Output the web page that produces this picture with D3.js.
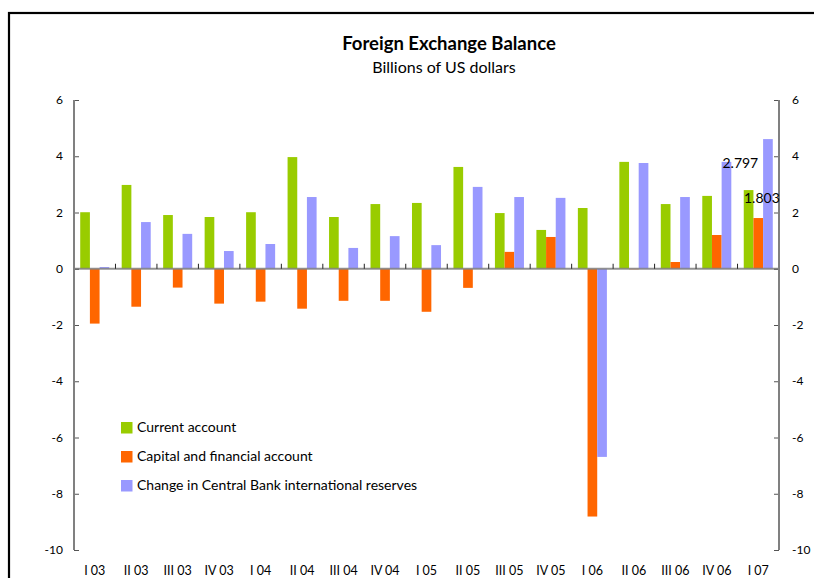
<!DOCTYPE html>
<html>
<head>
<meta charset="utf-8">
<script src="https://cdn.jsdelivr.net/npm/d3@7"></script>
<style>
  html, body { margin: 0; padding: 0; background: #fff; }
  svg { display: block; font-family: Lato, "Open Sans", sans-serif; }
</style>
</head>
<body>
<svg id="chart" width="814" height="578"></svg>
<script>
const categories = ["I 03","II 03","III 03","IV 03","I 04","II 04","III 04","IV 04","I 05","II 05","III 05","IV 05","I 06","II 06","III 06","IV 06","I 07"];
const currentAccount = [2.01, 2.98, 1.91, 1.84, 2.01, 3.97, 1.84, 2.30, 2.34, 3.62, 1.98, 1.38, 2.16, 3.80, 2.30, 2.59, 2.797];
const capitalAccount = [-1.95, -1.35, -0.67, -1.24, -1.17, -1.42, -1.14, -1.14, -1.53, -0.68, 0.60, 1.13, -8.81, -0.02, 0.24, 1.20, 1.803];
const reserves = [0.06, 1.66, 1.24, 0.63, 0.88, 2.55, 0.74, 1.16, 0.84, 2.91, 2.55, 2.52, -6.69, 3.76, 2.55, 3.80, 4.61];
const seriesNames = ["Current account", "Capital and financial account", "Change in Central Bank international reserves"];
const seriesColors = ["#99CC00", "#FF6600", "#9999FF"];
const yTicks = [-10, -8, -6, -4, -2, 0, 2, 4, 6];
const dataLabels = [{cat: "I 07", series: 0, text: "2.797"}, {cat: "I 07", series: 1, text: "1.803"}];

const svg = d3.select("#chart");
const series = [currentAccount, capitalAccount, reserves];

// frame
svg.append("rect").attr("x", 9).attr("y", 13).attr("width", 830).attr("height", 600)
  .attr("fill", "none").attr("stroke", "#000").attr("stroke-width", 2.2);

// titles
svg.append("text").attr("x", 449).attr("y", 50).attr("text-anchor", "middle")
  .attr("font-size", 18.5).attr("font-weight", "bold").attr("fill", "#000").text("Foreign Exchange Balance");
svg.append("text").attr("x", 444).attr("y", 73).attr("text-anchor", "middle")
  .attr("font-size", 16).attr("fill", "#000").text("Billions of US dollars");

const left = 74, right = 779;
const y = d3.scaleLinear().domain([-10, 6]).range([550, 100]);
const x = d3.scaleBand().domain(categories).range([left, right]).paddingInner(0.3).paddingOuter(0.15);
const xs = d3.scaleBand().domain([0, 1, 2]).range([0, x.bandwidth()]);
const step = x.step();

// bars
series.forEach((vals, si) => {
  svg.append("g").selectAll("rect").data(vals).join("rect")
    .attr("x", (d, i) => x(categories[i]) + xs(si))
    .attr("width", xs.bandwidth())
    .attr("y", d => y(Math.max(0, d)))
    .attr("height", d => Math.abs(y(d) - y(0)))
    .attr("fill", seriesColors[si]);
});

// zero line with category tick marks
svg.append("line").attr("x1", left).attr("x2", right).attr("y1", y(0)).attr("y2", y(0))
  .attr("stroke", "#7f7f7f").attr("stroke-width", 2).attr("stroke-opacity", 0.85);
const boundaries = d3.range(1, categories.length).map(i => x.range()[0] + i * step);
svg.append("g").selectAll("line").data(boundaries).join("line")
  .attr("x1", d => d).attr("x2", d => d).attr("y1", y(0)).attr("y2", y(0) - 5)
  .attr("stroke", "#222").attr("stroke-width", 1);

// left axis
const axisL = svg.append("g").attr("transform", `translate(${left},0)`)
  .call(d3.axisRight(y).tickValues(yTicks).tickSize(5).tickFormat(""));
axisL.select(".domain").remove();
axisL.selectAll(".tick line").attr("stroke", "#555");
svg.append("line").attr("x1", left).attr("x2", left).attr("y1", y(6)).attr("y2", y(-10))
  .attr("stroke", "#808080").attr("stroke-width", 2);
svg.append("g").selectAll("text").data(yTicks).join("text")
  .attr("x", 63).attr("y", d => y(d) + 4).attr("text-anchor", "end")
  .attr("font-size", 12).attr("fill", "#000").text(d => d);

// right axis
const axisR = svg.append("g").attr("transform", `translate(${right},0)`)
  .call(d3.axisLeft(y).tickValues(yTicks).tickSize(5).tickFormat(""));
axisR.select(".domain").remove();
axisR.selectAll(".tick line").attr("stroke", "#555");
svg.append("line").attr("x1", right).attr("x2", right).attr("y1", y(6)).attr("y2", y(-10))
  .attr("stroke", "#808080").attr("stroke-width", 2);
svg.append("g").selectAll("text").data(yTicks).join("text")
  .attr("x", 792).attr("y", d => y(d) + 4).attr("text-anchor", "start")
  .attr("font-size", 12).attr("fill", "#000").text(d => d);

// x labels
svg.append("g").selectAll("text").data(categories).join("text")
  .attr("x", d => x(d) + x.bandwidth() / 2).attr("y", 575).attr("text-anchor", "middle")
  .attr("font-size", 12.5).attr("fill", "#000").text(d => d);

// data labels
const labelOffsets = [{dx: x.bandwidth() / 2, dy: -22, anchor: "end"}, {dx: x.bandwidth() + 7, dy: -15, anchor: "end"}];
dataLabels.forEach((l, i) => {
  const v = series[l.series][categories.indexOf(l.cat)];
  svg.append("text").attr("x", x(l.cat) + labelOffsets[i].dx).attr("y", y(v) + labelOffsets[i].dy)
    .attr("text-anchor", labelOffsets[i].anchor).attr("font-size", 14).attr("fill", "#000").text(l.text);
});

// legend
const legend = svg.append("g").attr("transform", "translate(121,422)");
seriesNames.forEach((name, i) => {
  legend.append("rect").attr("x", 0).attr("y", i * 29).attr("width", 11.5).attr("height", 11.5).attr("fill", seriesColors[i]);
  legend.append("text").attr("x", 16).attr("y", i * 29 + 10).attr("font-size", 14).attr("fill", "#000").text(name);
});
</script>
</body>
</html>
